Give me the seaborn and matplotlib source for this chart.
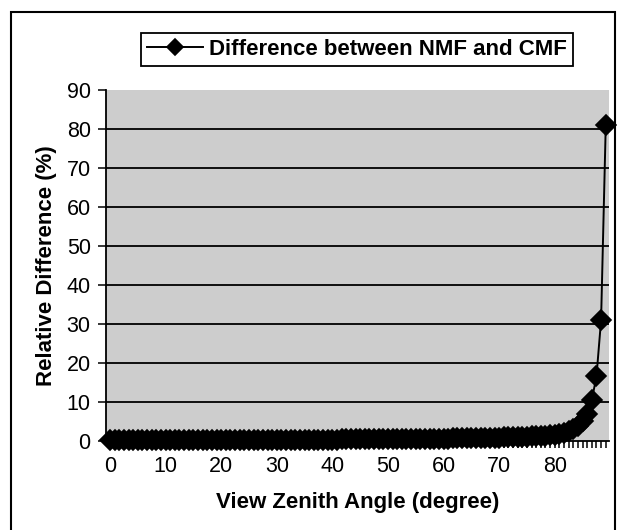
import matplotlib
matplotlib.use("Agg")
import matplotlib.pyplot as plt
import seaborn as sns
import pandas as pd
from matplotlib.patches import Rectangle

# ---- data ----
angles = [
    0, 0.83, 1.67, 2.5, 3.33, 4.17, 5, 5.83, 6.67, 7.5, 8.33, 9.17,
    10, 10.83, 11.67, 12.5, 13.33, 14.17, 15, 15.83, 16.67, 17.5, 18.33, 19.17,
    20, 20.83, 21.67, 22.5, 23.33, 24.17, 25, 25.83, 26.67, 27.5, 28.33, 29.17,
    30, 30.83, 31.67, 32.5, 33.33, 34.17, 35, 35.83, 36.67, 37.5, 38.33, 39.17,
    40, 40.83, 41.67, 42.5, 43.33, 44.17, 45, 45.83, 46.67, 47.5, 48.33, 49.17,
    50, 50.83, 51.67, 52.5, 53.33, 54.17, 55, 55.83, 56.67, 57.5, 58.33, 59.17,
    60, 60.83, 61.67, 62.5, 63.33, 64.17, 65, 65.83, 66.67, 67.5, 68.33, 69.17,
    70, 70.83, 71.67, 72.5, 73.33, 74.17, 75, 75.83, 76.67, 77.5, 78.33, 79.17,
    80, 80.83, 81.67, 82.5, 83.33, 84.17, 85, 85.83, 86.67, 87.5, 88.33, 89.17,
]
rel_diff = [
    0.10, 0.10, 0.10, 0.10, 0.10, 0.10, 0.11, 0.11, 0.11, 0.11, 0.11, 0.12,
    0.12, 0.12, 0.12, 0.13, 0.13, 0.13, 0.13, 0.14, 0.14, 0.14, 0.15, 0.15,
    0.15, 0.16, 0.16, 0.16, 0.17, 0.17, 0.18, 0.18, 0.18, 0.19, 0.19, 0.20,
    0.20, 0.21, 0.21, 0.22, 0.22, 0.23, 0.23, 0.24, 0.24, 0.25, 0.26, 0.26,
    0.27, 0.27, 0.28, 0.29, 0.29, 0.30, 0.31, 0.32, 0.32, 0.33, 0.34, 0.35,
    0.36, 0.37, 0.38, 0.39, 0.40, 0.41, 0.42, 0.43, 0.45, 0.46, 0.47, 0.49,
    0.50, 0.52, 0.54, 0.55, 0.57, 0.59, 0.61, 0.64, 0.66, 0.69, 0.72, 0.75,
    0.78, 0.81, 0.85, 0.89, 0.93, 0.98, 1.03, 1.09, 1.15, 1.22, 1.30, 1.40,
    1.55, 1.75, 2.00, 2.40, 2.95, 3.80, 5.00, 6.90, 10.5, 16.5, 31.0, 81.0,
]
series_name = "Difference between NMF and CMF"
x_ticks = [0, 10, 20, 30, 40, 50, 60, 70, 80]
y_ticks = [0, 10, 20, 30, 40, 50, 60, 70, 80, 90]
x_title = "View Zenith Angle (degree)"
y_title = "Relative Difference (%)"

df = pd.DataFrame({"angle": angles, "diff": rel_diff})

plt.rcParams["font.family"] = ["Liberation Sans", "DejaVu Sans"]

fig = plt.figure(figsize=(6.17, 5.30), dpi=100)
ax = fig.add_axes([0.1718, 0.1687, 0.8152, 0.6607])
ax.set_facecolor("#cdcdcd")

sns.lineplot(data=df, x="angle", y="diff", ax=ax, color="black",
             marker="D", markersize=10.2, markeredgecolor="black",
             markeredgewidth=1.2, linewidth=1.4, estimator=None,
             clip_on=False, zorder=5, label=series_name, legend=False)

ax.set_xlim(-0.72, 89.75)
ax.set_ylim(0, 90)
ax.set_xticks(x_ticks)
ax.set_xticklabels([str(t) for t in x_ticks])
ax.set_xticks(angles, minor=True)
ax.set_yticks(y_ticks)
ax.set_yticklabels([str(t) for t in y_ticks])

for y in y_ticks[1:-1]:
    ax.axhline(y, color="black", linewidth=1.3, zorder=2)

for s in ["top", "right"]:
    ax.spines[s].set_visible(False)
for s in ["left", "bottom"]:
    ax.spines[s].set_color("black")
    ax.spines[s].set_linewidth(1.3)

ax.tick_params(axis="x", which="both", direction="out", length=5, width=1.1,
               pad=6, labelsize=15.5, colors="black")
ax.tick_params(axis="y", which="major", direction="out", length=6, width=1.1,
               pad=5, labelsize=15.5, colors="black")

ax.set_xlabel(x_title, fontsize=16, fontweight="bold", labelpad=11)
ax.set_ylabel(y_title, fontsize=16, fontweight="bold", labelpad=7)

h = ax.get_lines()[0]
leg = fig.legend([h], [series_name], loc="center",
                 bbox_to_anchor=(0.5786, 0.9066), bbox_transform=fig.transFigure,
                 fancybox=False, shadow=False, framealpha=1, edgecolor="black",
                 prop={"size": 16, "weight": "bold"}, handlelength=2.5,
                 handletextpad=0.3, borderpad=0.25, borderaxespad=0,
                 markerscale=0.78)
leg.get_frame().set_linewidth(1.3)

fig.patches.append(Rectangle((11 / 617, -0.05), (615 - 11) / 617, 1.05 - 12 / 530,
                             transform=fig.transFigure, fill=False,
                             edgecolor="black", linewidth=1.5))

fig.savefig("out.png", dpi=100, facecolor="white")
